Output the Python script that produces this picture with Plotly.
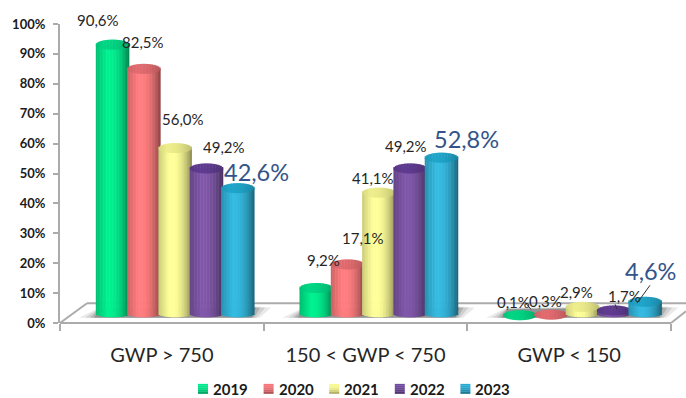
import math
import plotly.graph_objects as go

categories = ["GWP > 750", "150 < GWP < 750", "GWP < 150"]
years = ["2019", "2020", "2021", "2022", "2023"]
values_2019 = [90.6, 9.2, 0.1]
values_2020 = [82.5, 17.1, 0.3]
values_2021 = [56.0, 41.1, 2.9]
values_2022 = [49.2, 49.2, 1.7]
values_2023 = [42.6, 52.8, 4.6]
series_values = [values_2019, values_2020, values_2021, values_2022, values_2023]
y_ticks = list(range(0, 101, 10))

# styles
body_colors = ["#00EE8E", "#FF7C7E", "#FFFF99", "#7F56A8", "#33B8DE"]
cap_colors = ["#00D282", "#DD6A6E", "#E9E98A", "#5E3B8E", "#20A2C6"]
legend_colors = ["#00E58A", "#F07478", "#F5F590", "#6F4A9C", "#2AA8CE"]

# layout (pixels)
W, H = 686, 398
L, T, B = 60, 24, 75.3
PW, PH = W - L, H - T - B
UNIT = 203.6
BASE = 2.5
FOOT = 3.0
FOOT_SEMI = 1.1
SEMI = 5 / (PH / 100)
CYL = 33
PITCH = 31.3
START = -66
N = 22


def shade(hex_c, t):
    r, g, b = int(hex_c[1:3], 16), int(hex_c[3:5], 16), int(hex_c[5:7], 16)
    # t in [0, 1] across the cylinder
    if t < 0.35:
        f = 0.80 + 0.22 * (t / 0.35)
    else:
        f = 1.02 - 0.47 * ((t - 0.35) / 0.65) ** 2.2
    return f"rgb({min(255, int(r * f))},{min(255, int(g * f))},{min(255, int(b * f))})"


fig = go.Figure()
for si, vals in enumerate(series_values):
    xs, ys, bases, offs, widths, cols = [], [], [], [], [], []
    cap_y, cap_b, cap_c = [], [], []
    for ci, v in enumerate(vals):
        for k in range(N):
            t = (k + 0.5) / N
            s = math.sqrt(max(0.0, 1 - (2 * t - 1) ** 2))
            xs.append(categories[ci])
            offs.append((START + si * PITCH + CYL * k / N) / UNIT)
            widths.append(CYL / N * 1.35 / UNIT)
            foot = FOOT - FOOT_SEMI * s
            bases.append(foot)
            ys.append(max(0.0, BASE + v - foot))
            cols.append(shade(body_colors[si], t))
            cap_b.append(BASE + v - SEMI * s)
            cap_y.append(2 * SEMI * s)
            cap_c.append(shade(cap_colors[si], min(1, t * 0.6 + 0.2)))
    fig.add_trace(go.Bar(x=xs, y=ys, base=bases, offset=offs, width=widths, name=years[si],
                         marker=dict(color=cols, line=dict(width=0)), showlegend=False, hoverinfo="skip"))
    fig.add_trace(go.Bar(x=xs, y=cap_y, base=cap_b, offset=offs, width=widths, name=years[si],
                         marker=dict(color=cap_c, line=dict(width=0)), showlegend=False, hoverinfo="skip"))


def px(p):
    return (p - L) / PW


def py(p):
    return (H - B - p) / PH


def poly(points):
    return "M " + " L ".join(f"{px(a):.4f},{py(b):.4f}" for a, b in points) + " Z"


GRAY = "#ABABAB"
shapes = []
# floor shadows
for gi in range(3):
    dx = gi * UNIT
    for grow, op in [(0, 0.45), (4, 0.3), (9, 0.2), (15, 0.15)]:
        shapes.append(dict(type="path", xref="paper", yref="paper", layer="below", line=dict(width=0),
                           fillcolor="#6E6E6E", opacity=op,
                           path=poly([(94 + dx - grow, 317.5), (100 + dx, 309 - grow / 8),
                                      (254 + dx, 307.5 - grow / 10), (256 + dx + grow, 307.5),
                                      (252 + dx + grow / 2, 317.5)])))
# floor edges
for a, b in [((60, 322.7), (671, 322.7)), ((60, 322.7), (87, 303)), ((87, 303), (686, 303)), ((671, 322.7), (686, 311))]:
    shapes.append(dict(type="line", xref="paper", yref="paper", layer="below", line=dict(color=GRAY, width=2),
                       x0=px(a[0]), y0=py(a[1]), x1=px(b[0]), y1=py(b[1])))
# leader lines
for a, b in [((637, 303), (650, 285)), ((525, 302), (531, 309)), ((615, 304), (617, 309))]:
    shapes.append(dict(type="line", xref="paper", yref="paper", line=dict(color="#333333", width=1),
                       x0=px(a[0]), y0=py(a[1]), x1=px(b[0]), y1=py(b[1])))

# label centres (pixels): series -> category
label_pos = [
    [(98, 20), (323, 260), (513, 302)],
    [(143, 42), (363, 238), (545, 301)],
    [(183, 119), (373, 178), (576, 292)],
    [(224, 147), (406, 146), (624, 296)],
    [(256, 172), (467, 139), (650, 271)],
]
annotations = []
for si, vals in enumerate(series_values):
    for ci, v in enumerate(vals):
        big = si == 4
        a, b = label_pos[si][ci]
        annotations.append(dict(text=f"{v:.1f}%".replace(".", ","), xref="paper", yref="paper",
                                x=px(a), y=py(b), showarrow=False, xanchor="center", yanchor="middle",
                                font=dict(family="Lato", size=23.5 if big else 15,
                                          color="#33548A" if big else "#262626")))

# legend: swatch with a vertical sheen, then bold year
LEG_X, LEG_STEP, LEG_Y = 198, 65.6, 388.5
for si, yr in enumerate(years):
    x0 = LEG_X + si * LEG_STEP
    for j in range(5):
        shapes.append(dict(type="rect", xref="paper", yref="paper", line=dict(width=0),
                           fillcolor=shade(legend_colors[si], 0.35 + j * 0.13),
                           x0=px(x0), x1=px(x0 + 10), y0=py(LEG_Y - 5 + j * 2), y1=py(LEG_Y - 3 + j * 2)))
    annotations.append(dict(text=f"<b>{yr}</b>", xref="paper", yref="paper", x=px(x0 + 15), y=py(LEG_Y),
                            showarrow=False, xanchor="left", yanchor="middle", xshift=-2,
                            font=dict(family="Lato", size=15, color="#1A1A1A")))

fig.update_layout(
    width=W, height=H, autosize=False,
    margin=dict(l=L, r=0, t=T, b=B, pad=0),
    paper_bgcolor="white", plot_bgcolor="white",
    barmode="overlay", showlegend=False,
    font=dict(family="Lato"),
    shapes=shapes, annotations=annotations,
    xaxis=dict(type="category", categoryorder="array", categoryarray=categories,
               range=[-0.5, 2.5 + 15 / UNIT], tickson="boundaries", ticks="outside", ticklen=7, tickwidth=2,
               tickcolor=GRAY, showline=False, showgrid=False, zeroline=False, ticklabelstandoff=18,
               tickfont=dict(family="Lato", size=20, color="#262626")),
    yaxis=dict(range=[0, 100], tickvals=y_ticks, ticktext=[f"{t}%" for t in y_ticks], ticks="outside", ticklen=5,
               tickwidth=2, tickcolor=GRAY, showline=True, linewidth=2, linecolor=GRAY, showgrid=False,
               zeroline=False, ticklabelstandoff=5,
               tickfont=dict(family="Lato", size=13, color="#1A1A1A", weight="bold")),
)
fig.write_html("out.html", config={"displayModeBar": False}, post_script="document.body.style.margin='0';")
